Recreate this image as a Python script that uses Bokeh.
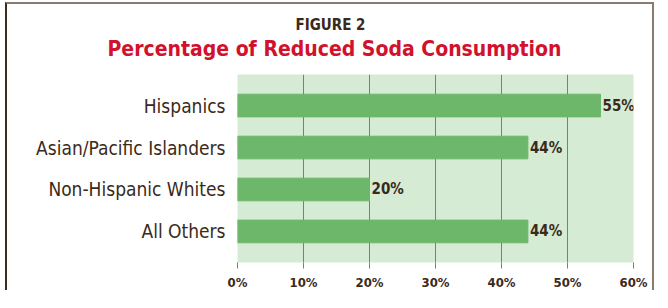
from bokeh.plotting import figure
from bokeh.models import FactorRange, Range1d, Title, ColumnDataSource, LabelSet, FixedTicker
from bokeh.embed import file_html
from bokeh.resources import INLINE
from bokeh.core.properties import value

categories = ["Hispanics", "Asian/Pacific Islanders", "Non-Hispanic Whites", "All Others"]
values = [55, 44, 20, 44]
value_labels = ["55%", "44%", "20%", "44%"]
x_ticks = [0, 10, 20, 30, 40, 50, 60]
x_tick_labels = ["0%", "10%", "20%", "30%", "40%", "50%", "60%"]
fig_label = "FIGURE 2"
title_text = "Percentage of Reduced Soda Consumption"

FONT = "DejaVu Sans Condensed"
BROWN = "#3b2a1a"
RED = "#d2112c"
BAR = "#6db76b"
BG = "#d5ebd3"
GRID = "#45a445"

src = ColumnDataSource(dict(cat=categories, val=values, lab=value_labels))

p = figure(width=649, height=288, output_backend="svg", toolbar_location=None, title=None,
           x_range=Range1d(0, 60),
           y_range=FactorRange(factors=list(reversed(categories)), range_padding=0.12),
           min_border_left=230, min_border_right=23, min_border_top=70, min_border_bottom=28)
p.styles = {"margin-left": "5px", "margin-top": "2px",
            "border-left": "2px solid #3e2c1c", "border-top": "2px solid #8a7b70",
            "border-right": "2px solid #8a7b70"}

p.background_fill_color = BG
p.border_fill_color = "white"
p.outline_line_color = None

p.hbar(y="cat", left=0, right="val", height=0.54, source=src, color=BAR)
p.add_layout(LabelSet(x="val", y="cat", text="lab", source=src, x_offset=2,
                      text_baseline="middle", text_font=value(FONT), text_font_size="15px",
                      text_font_style="bold", text_color=BROWN))

p.xgrid.ticker = FixedTicker(ticks=x_ticks)
p.xgrid.grid_line_color = GRID
p.xgrid.grid_line_alpha = 1.0
p.ygrid.grid_line_color = None

xa = p.xaxis[0]
xa.ticker = FixedTicker(ticks=x_ticks)
xa.major_label_overrides = {t: l for t, l in zip(x_ticks, x_tick_labels)}
xa.axis_line_color = None
xa.major_tick_line_color = GRID
xa.major_tick_out = 6
xa.major_tick_in = 0
xa.minor_tick_line_color = None
xa.major_label_standoff = 6
xa.major_label_text_font = FONT
xa.major_label_text_font_size = "13px"
xa.major_label_text_font_style = "bold"
xa.major_label_text_color = BROWN

ya = p.yaxis[0]
ya.axis_line_color = None
ya.major_tick_line_color = None
ya.minor_tick_line_color = None
ya.major_label_standoff = 6
ya.major_label_text_font = FONT
ya.major_label_text_font_size = "19px"
ya.major_label_text_color = BROWN

p.add_layout(Title(text=title_text, align="left", offset=-130, standoff=28,
                   text_font=FONT, text_font_size="21px", text_font_style="bold",
                   text_color=RED), "above")
p.add_layout(Title(text=fig_label, align="left", offset=58, standoff=-26,
                   text_font=FONT, text_font_size="15px", text_font_style="bold",
                   text_color=BROWN), "above")

open("out.html", "w").write(file_html(p, INLINE))
